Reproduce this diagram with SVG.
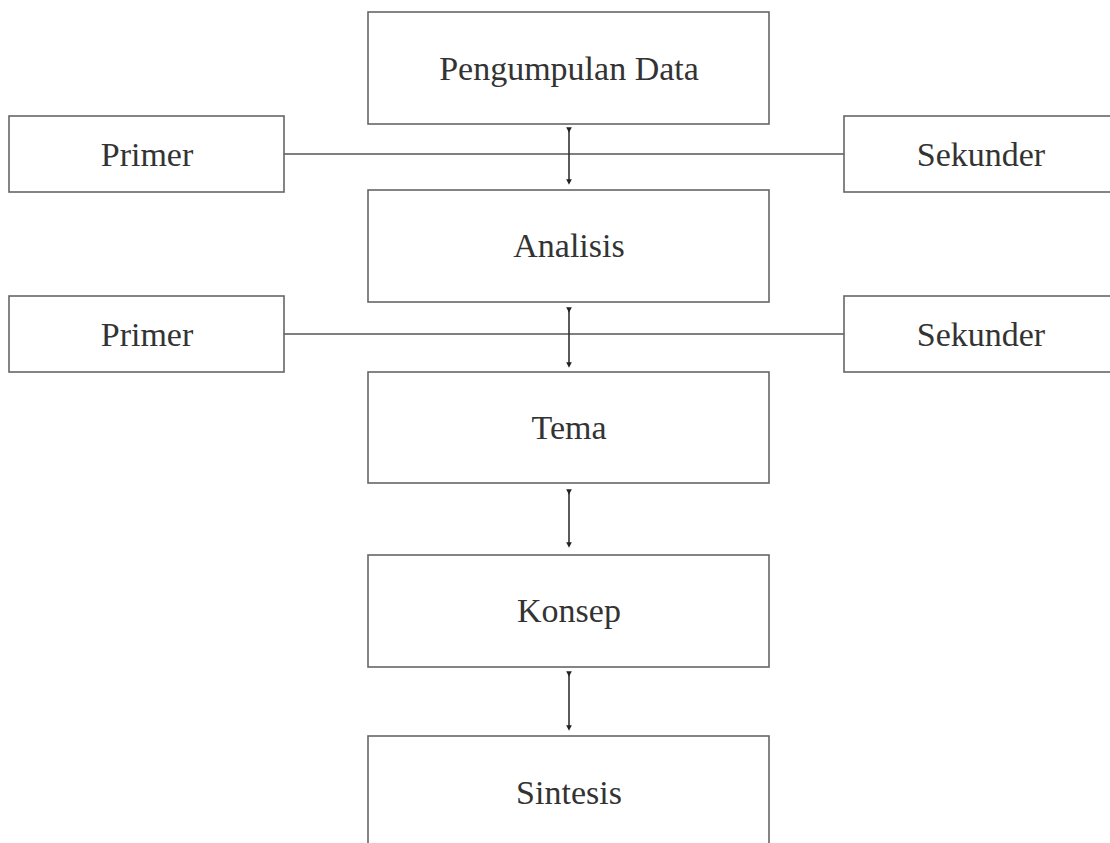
<svg xmlns="http://www.w3.org/2000/svg" width="1110" height="843" viewBox="0 0 1110 843">
<defs>
<style>
.box{fill:#fff;stroke:#666;stroke-width:1.6}
.lbl{font-family:"Liberation Serif","Times New Roman",serif;font-size:34px;fill:#333;text-anchor:middle}
.ln{stroke:#555;stroke-width:1.5;fill:none}
.ar{stroke:#333;stroke-width:1.6;fill:none;marker-start:url(#dot);marker-end:url(#dot)}
</style>
<marker id="dot" viewBox="0 0 10 10" refX="5" refY="5" markerWidth="7" markerHeight="7" markerUnits="userSpaceOnUse" orient="auto">
<path d="M1,1 L9,5 L1,9 Z" fill="#222"/>
</marker>
</defs>
<rect width="1110" height="843" fill="#fff"/>
<g id="connectors">
<line class="ln" x1="284" y1="154" x2="844" y2="154"/>
<line class="ln" x1="284" y1="334" x2="844" y2="334"/>
<line class="ar" x1="569" y1="130" x2="569" y2="182"/>
<line class="ar" x1="569" y1="310" x2="569" y2="365"/>
<line class="ar" x1="569" y1="492" x2="569" y2="545"/>
<line class="ar" x1="569" y1="674" x2="569" y2="728"/>
</g>
<g id="pengumpulan"><rect class="box" x="368" y="12" width="401" height="112"/><text class="lbl" x="569" y="80">Pengumpulan Data</text></g>
<g id="primer1"><rect class="box" x="9" y="116" width="275" height="76"/><text class="lbl" x="147" y="166">Primer</text></g>
<g id="sekunder1"><rect class="box" x="844" y="116" width="280" height="76"/><text class="lbl" x="981" y="166">Sekunder</text></g>
<g id="analisis"><rect class="box" x="368" y="190" width="401" height="112"/><text class="lbl" x="569" y="257">Analisis</text></g>
<g id="primer2"><rect class="box" x="9" y="296" width="275" height="76"/><text class="lbl" x="147" y="346">Primer</text></g>
<g id="sekunder2"><rect class="box" x="844" y="296" width="280" height="76"/><text class="lbl" x="981" y="346">Sekunder</text></g>
<g id="tema"><rect class="box" x="368" y="372" width="401" height="111"/><text class="lbl" x="569" y="439">Tema</text></g>
<g id="konsep"><rect class="box" x="368" y="555" width="401" height="112"/><text class="lbl" x="569" y="622">Konsep</text></g>
<g id="sintesis"><rect class="box" x="368" y="736" width="401" height="140"/><text class="lbl" x="569" y="804">Sintesis</text></g>
</svg>
